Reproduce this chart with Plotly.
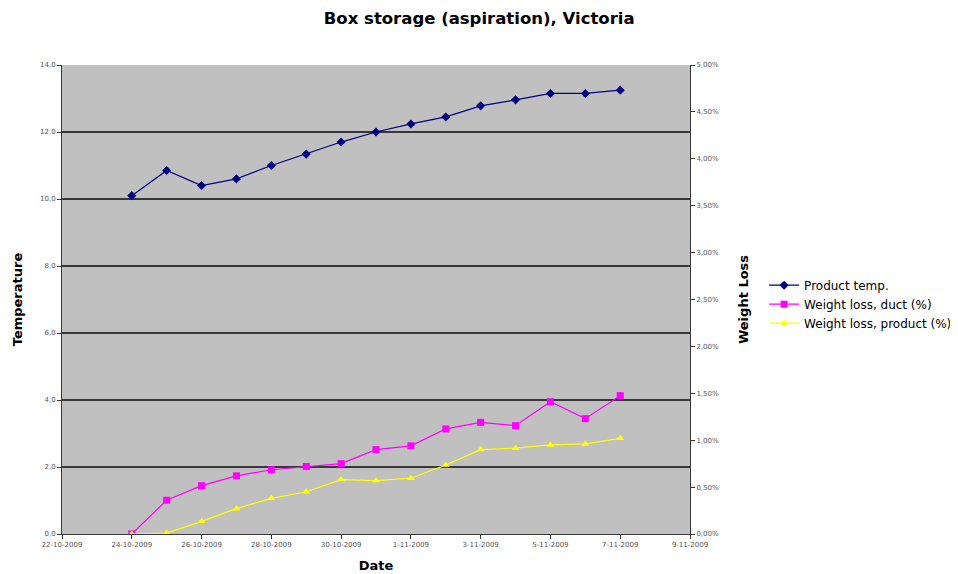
import plotly.graph_objects as go

dates = ["2009-10-24", "2009-10-25", "2009-10-26", "2009-10-27", "2009-10-28",
         "2009-10-29", "2009-10-30", "2009-10-31", "2009-11-01", "2009-11-02",
         "2009-11-03", "2009-11-04", "2009-11-05", "2009-11-06", "2009-11-07"]
product_temp = [10.1, 10.85, 10.4, 10.6, 11.0, 11.34, 11.7, 12.0, 12.24, 12.45,
                12.78, 12.96, 13.15, 13.15, 13.25]
weight_loss_duct = [0.0, 0.36, 0.515, 0.62, 0.685, 0.72, 0.75, 0.90, 0.94, 1.12,
                    1.19, 1.155, 1.41, 1.23, 1.475]
weight_loss_product = [0.0, 0.01, 0.135, 0.27, 0.38, 0.45, 0.58, 0.57, 0.595, 0.735,
                       0.90, 0.915, 0.95, 0.96, 1.02]

x_tickvals = ["2009-10-22", "2009-10-24", "2009-10-26", "2009-10-28", "2009-10-30",
              "2009-11-01", "2009-11-03", "2009-11-05", "2009-11-07", "2009-11-09"]
x_ticktext = ["22-10-2009", "24-10-2009", "26-10-2009", "28-10-2009", "30-10-2009",
              "1-11-2009", "3-11-2009", "5-11-2009", "7-11-2009", "9-11-2009"]

FONT = "DejaVu Sans"
tickfont = dict(family=FONT, size=7, color="#555555")
AXC = "#383838"

fig = go.Figure()
fig.add_trace(go.Scatter(
    x=dates, y=product_temp, name="Product temp.", mode="lines+markers",
    line=dict(color="#000080", width=1.2),
    marker=dict(symbol="diamond", size=7, color="#000080"),
    yaxis="y"))
fig.add_trace(go.Scatter(
    x=dates, y=[v / 100 for v in weight_loss_duct], name="Weight loss, duct (%)",
    mode="lines+markers",
    line=dict(color="#FF00FF", width=1.2),
    marker=dict(symbol="square", size=7, color="#FF00FF"),
    yaxis="y2"))
fig.add_trace(go.Scatter(
    x=dates, y=[v / 100 for v in weight_loss_product], name="Weight loss, product (%)",
    mode="lines+markers",
    line=dict(color="#FFFF00", width=1.2),
    marker=dict(symbol="triangle-up", size=7, color="#FFFF00"),
    yaxis="y2"))

fig.update_layout(
    width=950, height=566,
    separators=",.",
    paper_bgcolor="white",
    plot_bgcolor="#C0C0C0",
    margin=dict(l=54, r=268, t=57, b=40, autoexpand=False),
    title=dict(text="<b>Box storage (aspiration), Victoria</b>", x=0.496, xanchor="center",
               y=0.982, yanchor="middle",
               font=dict(family=FONT, size=16.5, color="black")),
    font=dict(family=FONT, color="black"),
    xaxis=dict(
        type="date", range=["2009-10-22", "2009-11-09"],
        tickvals=x_tickvals, ticktext=x_ticktext, tickangle=0,
        tickfont=tickfont, showgrid=False, zeroline=False,
        showline=True, linecolor=AXC, linewidth=1,
        ticks="outside", ticklen=4, tickcolor=AXC,
        title=dict(text="<b>Date</b>", font=dict(family=FONT, size=13), standoff=12)),
    yaxis=dict(
        range=[0, 14], dtick=2, tickformat=".1f", tickfont=tickfont,
        showgrid=True, gridcolor=AXC, gridwidth=1.5, zeroline=False,
        showline=True, linecolor=AXC, linewidth=1,
        ticks="outside", ticklen=4, tickcolor=AXC,
        title=dict(text="<b>Temperature</b>", font=dict(family=FONT, size=13), standoff=14)),
    yaxis2=dict(
        overlaying="y", side="right", range=[0, 0.05], dtick=0.005,
        tickformat=".2%", tickfont=tickfont, showgrid=False, zeroline=False,
        showline=True, linecolor=AXC, linewidth=1,
        ticks="outside", ticklen=4, tickcolor=AXC,
        title=dict(text="<b>Weight Loss</b>", font=dict(family=FONT, size=13), standoff=20)),
    legend=dict(x=1.118, y=0.49, xanchor="left", yanchor="middle",
                font=dict(family=FONT, size=12, color="black"),
                bgcolor="rgba(0,0,0,0)", tracegroupgap=0, itemwidth=30),
    showlegend=True,
)

fig.write_html("out.html")
